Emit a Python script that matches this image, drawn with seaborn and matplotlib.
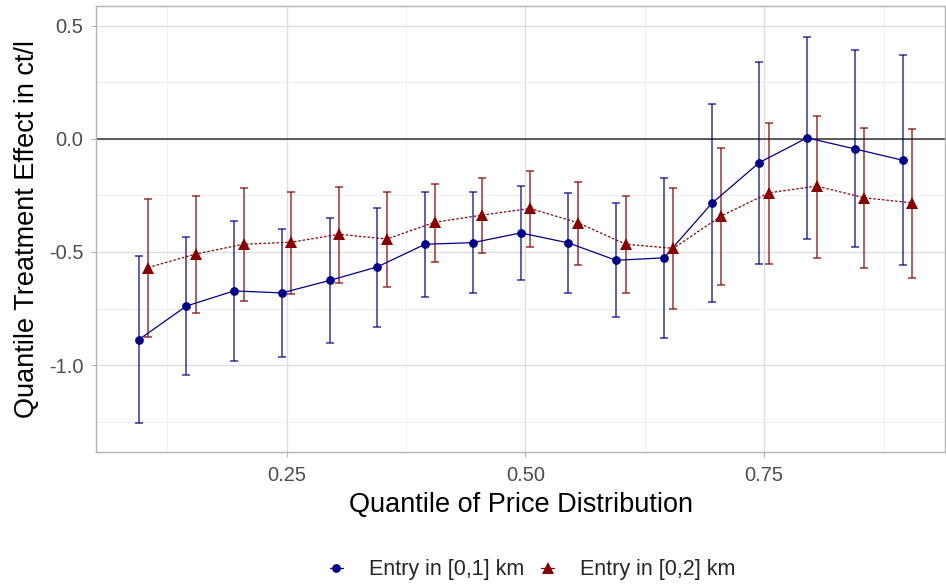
import numpy as np
import pandas as pd
import matplotlib
matplotlib.use("Agg")
import matplotlib.pyplot as plt
from matplotlib.ticker import MultipleLocator
import seaborn as sns

# quantiles and estimates
quantiles = [0.10, 0.15, 0.20, 0.25, 0.30, 0.35, 0.40, 0.45, 0.50,
             0.55, 0.60, 0.65, 0.70, 0.75, 0.80, 0.85, 0.90]

est_1km = [-0.888, -0.739, -0.672, -0.681, -0.626, -0.566, -0.466, -0.459, -0.416,
           -0.460, -0.537, -0.526, -0.286, -0.105, 0.004, -0.045, -0.095]
hi_1km = [-0.519, -0.435, -0.362, -0.397, -0.352, -0.305, -0.236, -0.236, -0.208,
          -0.241, -0.284, -0.174, 0.152, 0.340, 0.448, 0.390, 0.369]
lo_1km = [-1.256, -1.043, -0.980, -0.963, -0.900, -0.830, -0.697, -0.681, -0.622,
          -0.681, -0.789, -0.882, -0.723, -0.553, -0.443, -0.478, -0.559]

est_2km = [-0.569, -0.509, -0.466, -0.457, -0.422, -0.443, -0.369, -0.337, -0.308,
           -0.371, -0.466, -0.484, -0.341, -0.239, -0.209, -0.261, -0.283]
hi_2km = [-0.267, -0.253, -0.218, -0.234, -0.212, -0.237, -0.200, -0.175, -0.142,
          -0.189, -0.253, -0.219, -0.042, 0.068, 0.099, 0.046, 0.045]
lo_2km = [-0.876, -0.770, -0.717, -0.684, -0.635, -0.653, -0.543, -0.504, -0.478,
          -0.559, -0.682, -0.754, -0.647, -0.552, -0.526, -0.572, -0.616]

labels = ["Entry in [0,1] km", "Entry in [0,2] km"]
colors = {"Entry in [0,1] km": "#00008B", "Entry in [0,2] km": "#8B0000"}
markers = {"Entry in [0,1] km": "o", "Entry in [0,2] km": "^"}
dodge = {"Entry in [0,1] km": -0.005, "Entry in [0,2] km": 0.005}

frames = []
for lab, est, lo, hi in [(labels[0], est_1km, lo_1km, hi_1km),
                         (labels[1], est_2km, lo_2km, hi_2km)]:
    q = np.array(quantiles) + dodge[lab]
    frames.append(pd.DataFrame({"q": q, "est": est, "lo": lo, "hi": hi, "group": lab}))
df = pd.concat(frames, ignore_index=True)

sns.set_theme(style="whitegrid")
plt.rcParams["font.family"] = ["Liberation Sans", "DejaVu Sans"]

fig = plt.figure(figsize=(9.46, 5.84), dpi=100)
ax = fig.add_axes([0.102, 0.2255, 0.897, 0.7645])

ax.axhline(0, color="#333333", lw=1.1, zorder=1)

for lab in labels:
    d = df[df.group == lab]
    ax.errorbar(d.q, d.est, yerr=[d.est - d.lo, d.hi - d.est], fmt="none",
                ecolor=colors[lab], elinewidth=1.1, capsize=3, capthick=1.1,
                alpha=0.8, zorder=2)

sns.lineplot(data=df, x="q", y="est", hue="group", style="group",
             palette=colors, markers=markers,
             dashes={labels[0]: "", labels[1]: (2, 1.5)},
             markersize=6.3, markeredgewidth=0, linewidth=0.9,
             ax=ax, zorder=3, sort=True)

# triangles a bit bigger, like ggplot's shape 17
for ln in ax.lines:
    if ln.get_marker() == "^":
        ln.set_markersize(8)

ax.set_xlim(0.0509, 0.9394)
ax.set_ylim(-1.385, 0.587)
ax.xaxis.set_minor_locator(MultipleLocator(0.125))
ax.yaxis.set_minor_locator(MultipleLocator(0.25))
ax.set_xticks([0.25, 0.5, 0.75])
ax.set_xticklabels(["0.25", "0.50", "0.75"])
ax.set_yticks([-1.0, -0.5, 0.0, 0.5])
ax.set_yticklabels(["-1.0", "-0.5", "0.0", "0.5"])

ax.grid(which="major", color="#DEDEDE", lw=1.0)
ax.grid(which="minor", color="#EFEFEF", lw=0.7)
for s in ax.spines.values():
    s.set_color("#B3B3B3")
    s.set_linewidth(1.0)
ax.tick_params(which="major", length=3.5, width=0.8, color="#B3B3B3",
               labelsize=14.5, labelcolor="#4D4D4D", pad=6)
ax.tick_params(which="minor", length=0)
ax.tick_params(axis="both", which="major", bottom=True, left=True)

ax.set_xlabel("Quantile of Price Distribution", fontsize=19.5, color="black")
ax.set_ylabel("Quantile Treatment Effect in ct/l", fontsize=19.5, color="black")
ax.xaxis.set_label_coords(0.5, -0.118)
ax.xaxis.label.set_va("center")
ax.yaxis.set_label_coords(-0.082, 0.5)
ax.yaxis.label.set_va("center")

handles, hlabels = ax.get_legend_handles_labels()
ax.legend_.remove()
leg = fig.legend(handles, hlabels, loc="center", bbox_to_anchor=(0.563, 0.024),
                 ncol=2, frameon=False, fontsize=15.5, handlelength=0.6,
                 columnspacing=0.8, handletextpad=1.2)
for h in leg.legend_handles:
    if h.get_marker() == "^":
        h.set_markersize(8)
        h.set_linestyle("-")

fig.savefig("out.png", dpi=100)
